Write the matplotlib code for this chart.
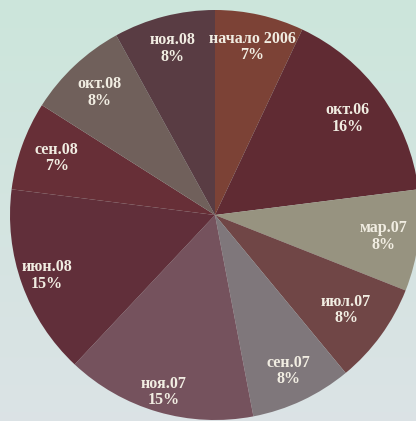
import numpy as np
from matplotlib import pyplot as plt

# data, clockwise from 12 o'clock
labels = ['начало 2006', 'окт.06', 'мар.07', 'июл.07', 'сен.07',
          'ноя.07', 'июн.08', 'сен.08', 'окт.08', 'ноя.08']
shares = [7, 16, 8, 8, 8, 15, 15, 7, 8, 8]
colors = ['#7c4236', '#602b33', '#979380', '#704646', '#7f777b',
          '#75525d', '#612f3a', '#672f37', '#70605b', '#593c43']
label_dist = [0.84, 0.8, 0.83, 0.79, 0.84, 0.9, 0.87, 0.82, 0.82, 0.84]

fig = plt.figure(figsize=(4.16, 4.21), dpi=100)
fig.patch.set_facecolor('#d3e5dd')

# soft background gradient like the projected slide
bg = fig.add_axes([0, 0, 1, 1])
grad = np.linspace(0, 1, 256).reshape(-1, 1)
top = np.array([0.80, 0.90, 0.86])
bot = np.array([0.86, 0.89, 0.90])
img = top + (bot - top) * grad[:, :, None]
bg.imshow(img, aspect='auto', extent=[0, 1, 0, 1], origin='upper')
bg.axis('off')

ax = fig.add_axes([10 / 416, 1 / 421, 410 / 416, 410 / 421])
wedges, _ = ax.pie(shares, colors=colors, startangle=90, counterclock=False,
                   radius=1.0, wedgeprops=dict(linewidth=0))

# put the label and percent inside each wedge
for w, lab, s, d in zip(wedges, labels, shares, label_dist):
    mid = np.radians((w.theta1 + w.theta2) / 2)
    ax.text(d * np.cos(mid), d * np.sin(mid), f'{lab}\n{s}%',
            ha='center', va='center', fontsize=11.5, fontweight='bold',
            family='Liberation Serif', color='#f1ede2', linespacing=1.05)

ax.set_xlim(-1, 1)
ax.set_ylim(-1, 1)
ax.set_aspect('equal')
ax.axis('off')

plt.savefig('out.png', dpi=100, facecolor=fig.get_facecolor())
